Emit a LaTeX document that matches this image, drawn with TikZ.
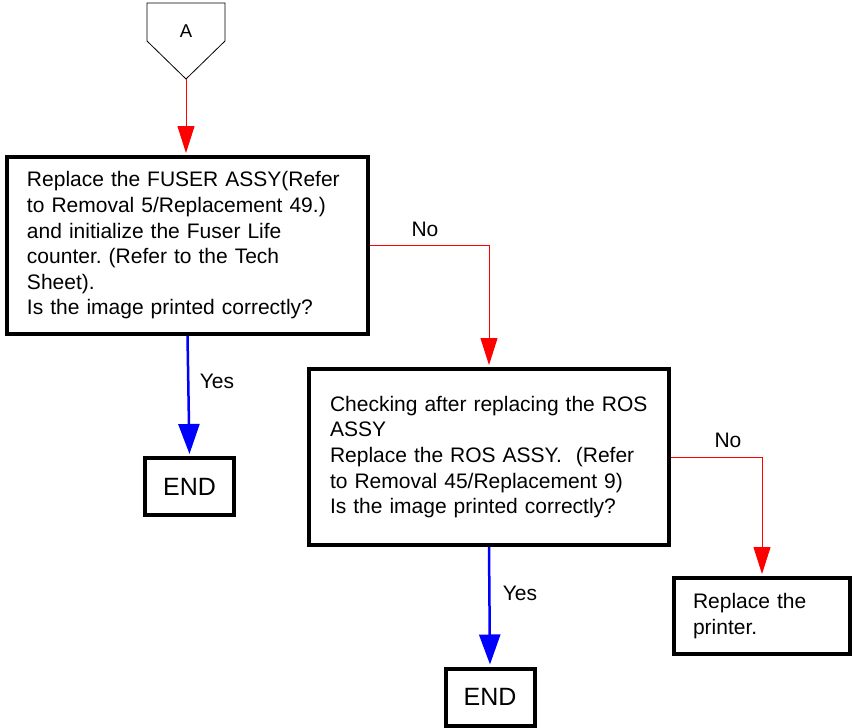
\documentclass[tikz,border=0pt]{standalone}
\usepackage{fontspec}
\setmainfont{Liberation Sans}
\usetikzlibrary{arrows.meta}
\definecolor{myred}{RGB}{255,0,0}
\definecolor{myblue}{RGB}{0,0,255}
\frenchspacing

\begin{document}
\begin{tikzpicture}[x=1pt,y=-1pt,
  box/.style={draw,line width=4pt,align=left,font=\fontsize{21}{25.6}\selectfont},
  endbox/.style={draw,line width=4pt,minimum width=89pt,minimum height=57pt,inner sep=0pt,font=\fontsize{25}{30}\selectfont},
  noline/.style={myred,line width=1pt,shorten >=2pt,-{Triangle[length=27pt,width=17pt]}},
  yesline/.style={myblue,line width=2.5pt,shorten >=2pt,-{Triangle[length=30pt,width=21pt]}},
  lbl/.style={font=\fontsize{21}{25}\selectfont,inner sep=0pt}]
  \useasboundingbox (0,0) rectangle (854,728);
  % Off-page connector A
  \draw[line width=0.8pt] (147,3)--(225,3)--(225,41)--(186,79)--(147,41)--cycle;
  \node[font=\fontsize{18.5}{20}\selectfont,inner sep=0pt] (conA) at (186,31.5){A};
  \coordinate (tipA) at (186,79);
  % First check: fuser
  \node[box,text width=321pt,inner xsep=20pt,minimum height=177pt] (fuser) at (187.5,245.5)
    {Replace the FUSER ASSY(Refer\\to Removal 5/Replacement 49.)\\and initialize the Fuser Life\\counter. (Refer to the Tech\\Sheet).\\Is the image printed correctly?};
  \node[endbox] (end1) at (189.5,486.5){END};
  % Second check: ROS
  \node[box,text width=318pt,inner xsep=21pt,minimum height=176pt] (ros) at (489,457)
    {Checking after replacing the ROS\\ASSY\\Replace the ROS ASSY.~ (Refer\\to Removal 45/Replacement 9)\\Is the image printed correctly?};
  \node[endbox] (end2) at (490,697){END};
  \node[box,text width=138pt,inner xsep=19pt,minimum height=76pt] (printer) at (762,616)
    {Replace the\\printer.};
  % Connectors
  \draw[noline] (tipA) -- (tipA |- fuser.north);
  \draw[noline] (fuser.east) -| (ros.north);
  \draw[yesline] (fuser.south) -- (end1.north);
  \draw[noline] (ros.east) -| (printer.north);
  \draw[yesline] (ros.south) -- (end2.north);
  % Labels
  \node[lbl] (no1) at (425,229){No};
  \node[lbl] (yes1) at (217,381){Yes};
  \node[lbl] (no2) at (728,440){No};
  \node[lbl] (yes2) at (520,593){Yes};
\end{tikzpicture}
\end{document}
